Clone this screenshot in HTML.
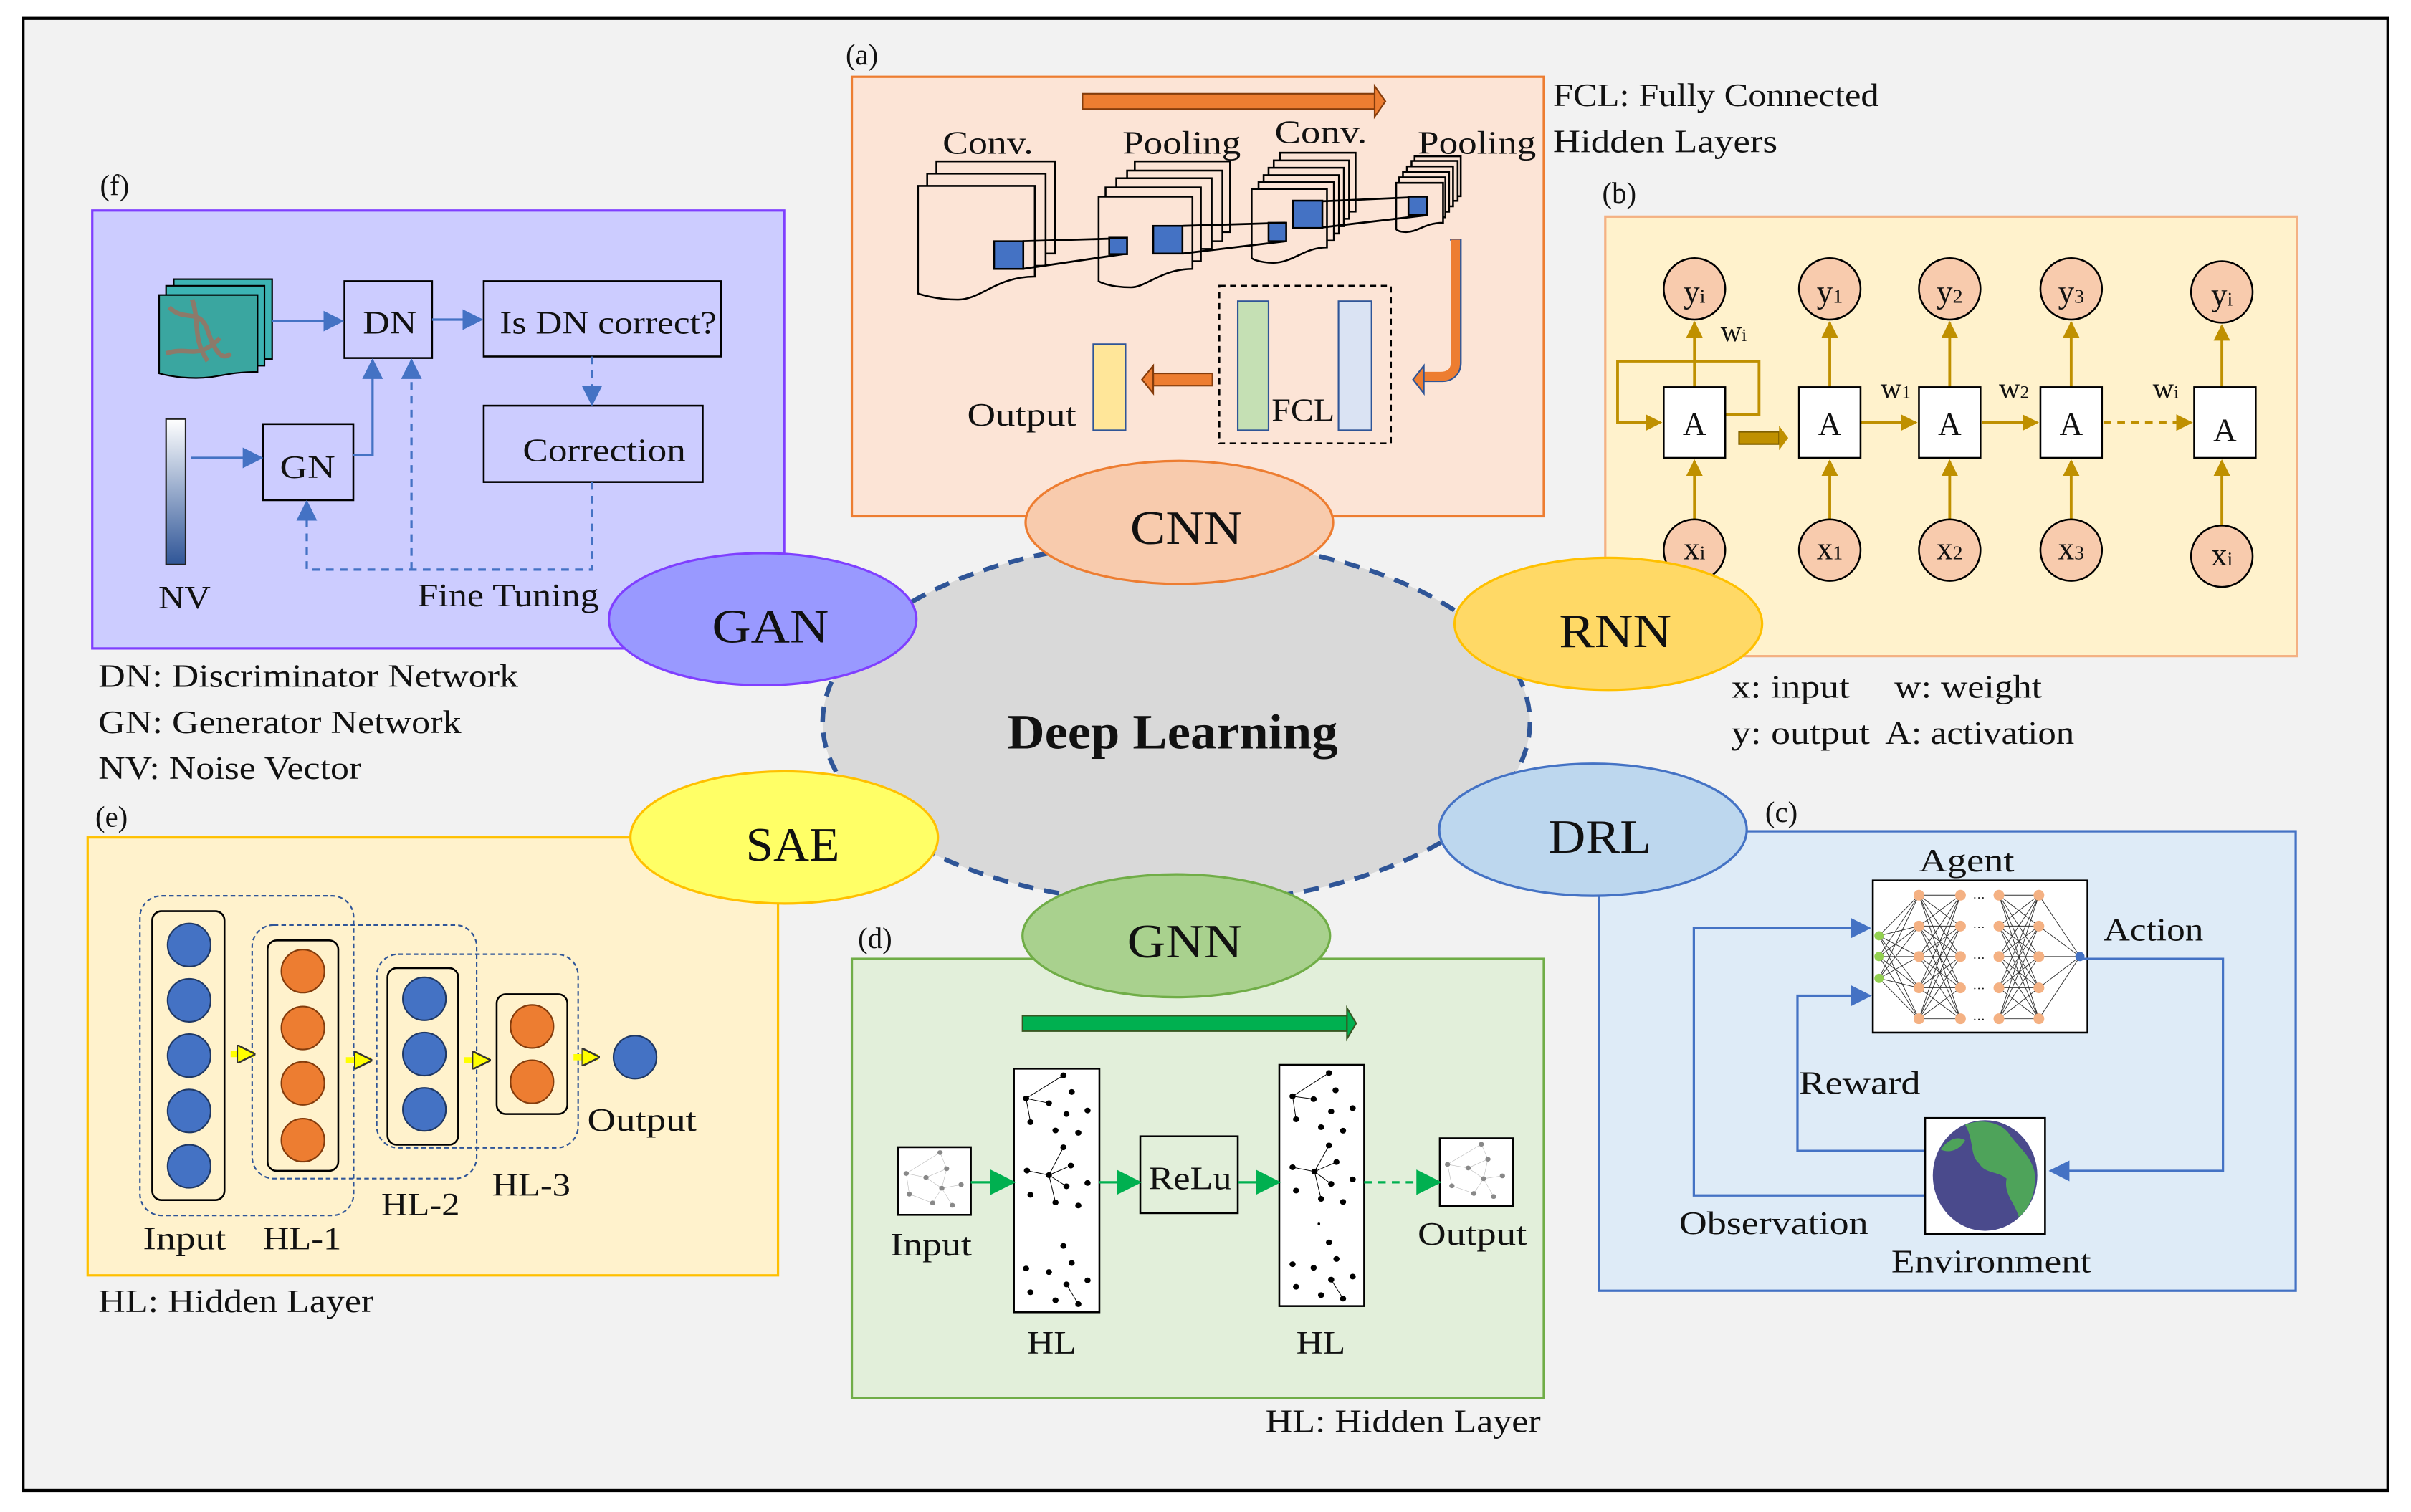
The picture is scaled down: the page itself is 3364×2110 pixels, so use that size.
<!DOCTYPE html>
<html><head><meta charset="utf-8"><style>
html,body{margin:0;padding:0;background:#fff}
svg{display:block}
text{font-family:"Liberation Serif",serif;fill:#111}
</style></head><body>
<svg width="3364" height="2110" viewBox="0 0 1568 984" preserveAspectRatio="none" xmlns="http://www.w3.org/2000/svg">
<defs>
<marker id="bl" viewBox="0 0 10 10" refX="9" refY="5" markerWidth="9" markerHeight="9" orient="auto"><path d="M0,0L10,5L0,10z" fill="#4472c4"/></marker>
<marker id="gd" viewBox="0 0 10 10" refX="9" refY="5" markerWidth="6" markerHeight="6" orient="auto"><path d="M0,0L10,5L0,10z" fill="#bf9000"/></marker>
<marker id="gr" viewBox="0 0 10 10" refX="9" refY="5" markerWidth="11" markerHeight="12" orient="auto"><path d="M0,0L10,5L0,10z" fill="#00b050"/></marker>
<marker id="yl" viewBox="0 0 10 10" refX="9" refY="5" markerWidth="3" markerHeight="3" orient="auto"><path d="M0,0L10,5L0,10z" fill="#ffff00" stroke="#333" stroke-width="1"/></marker>
<linearGradient id="nv" x1="0" y1="0" x2="0" y2="1"><stop offset="0" stop-color="#fff"/><stop offset="0.3" stop-color="#c0cce0"/><stop offset="1" stop-color="#2f5597"/></linearGradient>
</defs>
<rect x="15" y="12" width="1538" height="958" fill="#f2f2f2" stroke="#000" stroke-width="2"/>

<!-- (a) CNN -->
<text x="550" y="42" font-size="19">(a)</text>
<rect x="554" y="50" width="450" height="286" fill="#fce4d6" stroke="#ed7d31" stroke-width="1.5"/>
<text x="1010" y="69" font-size="21" textLength="212" lengthAdjust="spacingAndGlyphs">FCL: Fully Connected</text>
<text x="1010" y="99" font-size="21" textLength="146" lengthAdjust="spacingAndGlyphs">Hidden Layers</text>
<rect x="704" y="61" width="190" height="10" fill="#ed7d31" stroke="#843c0c" stroke-width="1"/>
<path d="M894,56L901,66L894,76z" fill="#ed7d31" stroke="#843c0c"/>
<text x="613" y="100" font-size="21" textLength="59" lengthAdjust="spacingAndGlyphs">Conv.</text>
<text x="730" y="100" font-size="21" textLength="77" lengthAdjust="spacingAndGlyphs">Pooling</text>
<text x="829" y="93" font-size="21" textLength="60" lengthAdjust="spacingAndGlyphs">Conv.</text>
<text x="922" y="100" font-size="21" textLength="77" lengthAdjust="spacingAndGlyphs">Pooling</text>
<g fill="#fce4d6" stroke="#000" stroke-width="1.2">
<rect x="609" y="105" width="77" height="60"/><rect x="603" y="113" width="77" height="60"/>
<path d="M597,121h76v59c-25,0-35,15-50,15c-15,0-26-4-26-4z"/>
<rect x="738" y="105" width="62" height="46"/><rect x="733" y="111" width="62" height="46"/><rect x="726" y="116" width="62" height="46"/><rect x="719" y="122" width="62" height="48"/>
<path d="M714.5,128h61v47c-20,0-30,12-40,12c-15,0-21-4-21-4z"/>
<rect x="832.6" y="99.4" width="49" height="38.3"/><rect x="828.4" y="104.4" width="49" height="38"/><rect x="825" y="109.2" width="49" height="38"/><rect x="821.8" y="114" width="49" height="38"/><rect x="818.5" y="118.6" width="49" height="38"/>
<path d="M814,123h49v38c-15,0-22,10-35,10c-10,0-14-3-14-3z"/>
<rect x="920" y="101.7" width="30" height="26"/><rect x="918" y="104.7" width="30" height="26"/><rect x="915" y="108.3" width="30" height="26"/><rect x="912.4" y="111.8" width="30" height="26"/><rect x="910" y="115.4" width="30" height="26"/>
<path d="M908,119h30.5v26c-12,0-16,6-24,6c-6,0-6.5-2-6.5-2z"/>
</g>
<g stroke="#000" stroke-width="1.3"><line x1="665" y1="157" x2="733" y2="155"/><line x1="665" y1="175" x2="733" y2="165"/>
<line x1="769" y1="147" x2="836" y2="145"/><line x1="769" y1="165" x2="836" y2="157"/>
<line x1="860" y1="131" x2="928" y2="128"/><line x1="860" y1="148" x2="928" y2="140"/></g>
<g fill="#4472c4" stroke="#000" stroke-width="1.2">
<rect x="646.5" y="157" width="19" height="18"/><rect x="721.4" y="154.7" width="11.6" height="10.7"/>
<rect x="750" y="147" width="19" height="18"/><rect x="825" y="145" width="11.5" height="12"/>
<rect x="841" y="130.6" width="19" height="17.8"/><rect x="916" y="128" width="12" height="12"/></g>
<path d="M943,156h7v80c0,8-6,12-12,12h-12" fill="none" stroke="#2f5597" stroke-width="1.2"/>
<path d="M946.5,156v80c0,7-5,9-10,9h-12" fill="none" stroke="#ed7d31" stroke-width="6"/>
<path d="M926,238L919,247L926,256z" fill="#ed7d31" stroke="#2f5597"/>
<rect x="793" y="186" width="111.6" height="102.5" fill="none" stroke="#000" stroke-dasharray="4,3" stroke-width="1.2"/>
<rect x="805" y="196" width="20" height="84" fill="#c5e0b4" stroke="#2f5597"/>
<rect x="870.5" y="196" width="21.5" height="84" fill="#dae3f3" stroke="#2f5597"/>
<text x="827" y="274" font-size="21" textLength="41" lengthAdjust="spacingAndGlyphs">FCL</text>
<rect x="711" y="224" width="21" height="56" fill="#ffe699" stroke="#2f5597"/>
<rect x="750" y="243" width="38.5" height="8" fill="#ed7d31" stroke="#843c0c"/>
<path d="M750,238L742.7,247L750,256z" fill="#ed7d31" stroke="#843c0c"/>
<text x="629" y="277" font-size="21" textLength="71" lengthAdjust="spacingAndGlyphs">Output</text>

<!-- (b) RNN -->
<text x="1042" y="132" font-size="19">(b)</text>
<rect x="1044" y="141" width="450" height="286" fill="#fff2cc" stroke="#f4b183" stroke-width="1.5"/>
<g stroke="#bf9000" stroke-width="1.8" fill="none">
<line x1="1102" y1="252" x2="1102" y2="210" marker-end="url(#gd)"/>
<line x1="1190" y1="252" x2="1190" y2="210" marker-end="url(#gd)"/>
<line x1="1268" y1="252" x2="1268" y2="210" marker-end="url(#gd)"/>
<line x1="1347" y1="252" x2="1347" y2="210" marker-end="url(#gd)"/>
<line x1="1445" y1="252" x2="1445" y2="212" marker-end="url(#gd)"/>
<line x1="1102" y1="338" x2="1102" y2="300" marker-end="url(#gd)"/>
<line x1="1190" y1="338" x2="1190" y2="300" marker-end="url(#gd)"/>
<line x1="1268" y1="338" x2="1268" y2="300" marker-end="url(#gd)"/>
<line x1="1347" y1="338" x2="1347" y2="300" marker-end="url(#gd)"/>
<line x1="1445" y1="342" x2="1445" y2="300" marker-end="url(#gd)"/>
<path d="M1122,270h22v-35h-92v40h28" marker-end="url(#gd)"/>
<line x1="1210" y1="275" x2="1246" y2="275" marker-end="url(#gd)"/>
<line x1="1289" y1="275" x2="1325" y2="275" marker-end="url(#gd)"/>
<line x1="1368" y1="275" x2="1425" y2="275" stroke-dasharray="5,4" marker-end="url(#gd)"/>
</g>
<rect x="1131" y="281" width="26" height="8" fill="#bf9000" stroke="#7f6000"/>
<path d="M1157,277L1163,285L1157,293z" fill="#bf9000"/>
<g fill="#fff" stroke="#000" stroke-width="1.2">
<rect x="1082" y="252" width="40" height="46"/><rect x="1170" y="252" width="40" height="46"/><rect x="1248" y="252" width="40" height="46"/><rect x="1327" y="252" width="40" height="46"/><rect x="1427" y="252" width="40" height="46"/></g>
<g font-size="21" text-anchor="middle"><text x="1102" y="283">A</text><text x="1190" y="283">A</text><text x="1268" y="283">A</text><text x="1347" y="283">A</text><text x="1447" y="287">A</text></g>
<g fill="#f8cbad" stroke="#000" stroke-width="1.2">
<circle cx="1102" cy="188" r="20"/><circle cx="1190" cy="188" r="20"/><circle cx="1268" cy="188" r="20"/><circle cx="1347" cy="188" r="20"/><circle cx="1445" cy="190" r="20"/>
<circle cx="1102" cy="358" r="20"/><circle cx="1190" cy="358" r="20"/><circle cx="1268" cy="358" r="20"/><circle cx="1347" cy="358" r="20"/><circle cx="1445" cy="362" r="20"/></g>
<g font-size="21" text-anchor="middle">
<text x="1102" y="197">y<tspan font-size="13">i</tspan></text><text x="1190" y="197">y<tspan font-size="13">1</tspan></text><text x="1268" y="197">y<tspan font-size="13">2</tspan></text><text x="1347" y="197">y<tspan font-size="13">3</tspan></text><text x="1445" y="199">y<tspan font-size="13">i</tspan></text>
<text x="1102" y="364">x<tspan font-size="13">i</tspan></text><text x="1190" y="364">x<tspan font-size="13">1</tspan></text><text x="1268" y="364">x<tspan font-size="13">2</tspan></text><text x="1347" y="364">x<tspan font-size="13">3</tspan></text><text x="1445" y="368">x<tspan font-size="13">i</tspan></text></g>
<g font-size="19"><text x="1119" y="222">w<tspan font-size="12">i</tspan></text><text x="1223" y="259">w<tspan font-size="12">1</tspan></text><text x="1300" y="259">w<tspan font-size="12">2</tspan></text><text x="1400" y="259">w<tspan font-size="12">i</tspan></text></g>
<text x="1126" y="454" font-size="21" textLength="77" lengthAdjust="spacingAndGlyphs">x: input</text><text x="1232" y="454" font-size="21" textLength="96" lengthAdjust="spacingAndGlyphs">w: weight</text>
<text x="1126" y="484" font-size="21" textLength="90" lengthAdjust="spacingAndGlyphs">y: output</text><text x="1226" y="484" font-size="21" textLength="123" lengthAdjust="spacingAndGlyphs">A: activation</text>

<!-- (c) DRL -->
<text x="1148" y="535" font-size="19">(c)</text>
<rect x="1040" y="541" width="453" height="299" fill="#deebf7" stroke="#4472c4" stroke-width="1.5"/>
<text x="1248" y="567" font-size="21" textLength="62" lengthAdjust="spacingAndGlyphs">Agent</text>
<rect x="1218" y="573" width="139.6" height="99" fill="#fff" stroke="#000" stroke-width="1.2"/>
<g stroke="#333" stroke-width="0.45" fill="none">
<path d="M1222,609L1248,582.6M1222,609L1248,602.7M1222,609L1248,622.5M1222,609L1248,642.9M1222,609L1248,663M1222,622.5L1248,582.6M1222,622.5L1248,602.7M1222,622.5L1248,622.5M1222,622.5L1248,642.9M1222,622.5L1248,663M1222,636.7L1248,582.6M1222,636.7L1248,602.7M1222,636.7L1248,622.5M1222,636.7L1248,642.9M1222,636.7L1248,663"/>
<path d="M1248,582.6L1275,582.6M1248,582.6L1275,602.7M1248,582.6L1275,622.5M1248,582.6L1275,642.9M1248,582.6L1275,663M1248,602.7L1275,582.6M1248,602.7L1275,602.7M1248,602.7L1275,622.5M1248,602.7L1275,642.9M1248,602.7L1275,663M1248,622.5L1275,582.6M1248,622.5L1275,602.7M1248,622.5L1275,622.5M1248,622.5L1275,642.9M1248,622.5L1275,663M1248,642.9L1275,582.6M1248,642.9L1275,602.7M1248,642.9L1275,622.5M1248,642.9L1275,642.9M1248,642.9L1275,663M1248,663L1275,582.6M1248,663L1275,602.7M1248,663L1275,622.5M1248,663L1275,642.9M1248,663L1275,663"/>
<path d="M1300,582.6L1326,582.6M1300,582.6L1326,602.7M1300,582.6L1326,622.5M1300,582.6L1326,642.9M1300,582.6L1326,663M1300,602.7L1326,582.6M1300,602.7L1326,602.7M1300,602.7L1326,622.5M1300,602.7L1326,642.9M1300,602.7L1326,663M1300,622.5L1326,582.6M1300,622.5L1326,602.7M1300,622.5L1326,622.5M1300,622.5L1326,642.9M1300,622.5L1326,663M1300,642.9L1326,582.6M1300,642.9L1326,602.7M1300,642.9L1326,622.5M1300,642.9L1326,642.9M1300,642.9L1326,663M1300,663L1326,582.6M1300,663L1326,602.7M1300,663L1326,622.5M1300,663L1326,642.9M1300,663L1326,663"/>
<path d="M1326,582.6L1352.7,622.5M1326,602.7L1352.7,622.5M1326,622.5L1352.7,622.5M1326,642.9L1352.7,622.5M1326,663L1352.7,622.5"/>
</g>
<g fill="#f4b183"><circle cx="1248" cy="582.6" r="3.5"/><circle cx="1248" cy="602.7" r="3.5"/><circle cx="1248" cy="622.5" r="3.5"/><circle cx="1248" cy="642.9" r="3.5"/><circle cx="1248" cy="663" r="3.5"/>
<circle cx="1275" cy="582.6" r="3.5"/><circle cx="1275" cy="602.7" r="3.5"/><circle cx="1275" cy="622.5" r="3.5"/><circle cx="1275" cy="642.9" r="3.5"/><circle cx="1275" cy="663" r="3.5"/>
<circle cx="1300" cy="582.6" r="3.5"/><circle cx="1300" cy="602.7" r="3.5"/><circle cx="1300" cy="622.5" r="3.5"/><circle cx="1300" cy="642.9" r="3.5"/><circle cx="1300" cy="663" r="3.5"/>
<circle cx="1326" cy="582.6" r="3.5"/><circle cx="1326" cy="602.7" r="3.5"/><circle cx="1326" cy="622.5" r="3.5"/><circle cx="1326" cy="642.9" r="3.5"/><circle cx="1326" cy="663" r="3.5"/></g>
<g fill="#92d050"><circle cx="1222" cy="609" r="3"/><circle cx="1222" cy="622.5" r="3"/><circle cx="1222" cy="636.7" r="3"/></g>
<circle cx="1352.7" cy="622.5" r="3" fill="#4472c4"/>
<g font-size="8" fill="#666"><text x="1283" y="587">···</text><text x="1283" y="606">···</text><text x="1283" y="626">···</text><text x="1283" y="646">···</text><text x="1283" y="666">···</text></g>
<text x="1368" y="612" font-size="21" textLength="65" lengthAdjust="spacingAndGlyphs">Action</text>
<g stroke="#4472c4" stroke-width="1.5" fill="none">
<path d="M1355,624h90.7v138h-112" marker-end="url(#bl)"/>
<path d="M1253,778h-151.4v-174h114" marker-end="url(#bl)"/>
<path d="M1253,749h-84v-101h47" marker-end="url(#bl)"/>
</g>
<text x="1170" y="712" font-size="21" textLength="79" lengthAdjust="spacingAndGlyphs">Reward</text>
<rect x="1252" y="727.6" width="78" height="75.4" fill="#fff" stroke="#000" stroke-width="1.2"/>
<ellipse cx="1291" cy="765" rx="34" ry="36" fill="#4a4a8c"/>
<path d="M1278,732c10-4,22-2,28,5c6,9,14,14,17,25c2,12-3,25-10,30c-3-10-10-15-8-25c-6-5-14-3-18-10c-6-5-3-15-9-25z M1262,748c5-6,10-9,16-6c-3,6-10,9-16,6z" fill="#4ea35a"/>
<text x="1092" y="803" font-size="21" textLength="123" lengthAdjust="spacingAndGlyphs">Observation</text>
<text x="1230" y="828" font-size="21" textLength="130" lengthAdjust="spacingAndGlyphs">Environment</text>

<!-- (d) GNN -->
<text x="558" y="617" font-size="19">(d)</text>
<rect x="554" y="624" width="450" height="286" fill="#e2efda" stroke="#70ad47" stroke-width="1.5"/>
<rect x="665" y="661" width="211" height="10" fill="#00b050" stroke="#385723"/>
<path d="M876,656L882,666L876,676z" fill="#00b050" stroke="#385723"/>
<rect x="584" y="746.6" width="47.4" height="44" fill="#fff" stroke="#000" stroke-width="1.2"/>
<rect x="659.4" y="695.5" width="55.6" height="158.5" fill="#fff" stroke="#000" stroke-width="1.2"/>
<rect x="741.6" y="739.5" width="63.4" height="50" fill="#e2efda" stroke="#000" stroke-width="1.2"/>
<text x="747" y="774" font-size="21" textLength="54" lengthAdjust="spacingAndGlyphs">ReLu</text>
<rect x="832" y="693" width="55.2" height="157" fill="#fff" stroke="#000" stroke-width="1.2"/>
<rect x="936.4" y="740.8" width="47.6" height="44.2" fill="#fff" stroke="#000" stroke-width="1.2"/>
<g transform="translate(559.4,643.4) scale(0.2855,0.1546)">
<g stroke="#000" stroke-width="1" fill="none">
<path vector-effect="non-scaling-stroke" d="M463,365L378,462L430,482M378,462L388,562M430,785L463,668M430,785L480,745M430,785L470,832M430,785L445,900M430,785L380,766M470,1245L497,1328"/>
<path vector-effect="non-scaling-stroke" d="M1068,355L985,453L1033,465M985,453L993,550M1035,770L1068,660M1035,770L1085,730M1035,770L1073,822M1035,770L1050,885M1035,770L985,752M1073,1225L1100,1305"/>
</g>
<g fill="#000">
<ellipse cx="463" cy="365" rx="7" ry="12"/><ellipse cx="378" cy="462" rx="7" ry="12"/><ellipse cx="430" cy="482" rx="7" ry="12"/><ellipse cx="388" cy="562" rx="7" ry="12"/><ellipse cx="482" cy="435" rx="7" ry="12"/><ellipse cx="470" cy="528" rx="7" ry="12"/><ellipse cx="518" cy="513" rx="7" ry="12"/><ellipse cx="445" cy="597" rx="7" ry="12"/><ellipse cx="497" cy="607" rx="7" ry="12"/>
<ellipse cx="430" cy="785" rx="7" ry="12"/><ellipse cx="463" cy="668" rx="7" ry="12"/><ellipse cx="480" cy="745" rx="7" ry="12"/><ellipse cx="470" cy="832" rx="7" ry="12"/><ellipse cx="445" cy="900" rx="7" ry="12"/><ellipse cx="380" cy="766" rx="7" ry="12"/><ellipse cx="388" cy="868" rx="7" ry="12"/><ellipse cx="518" cy="818" rx="7" ry="12"/><ellipse cx="497" cy="913" rx="7" ry="12"/>
<ellipse cx="463" cy="1083" rx="7" ry="12"/><ellipse cx="482" cy="1155" rx="7" ry="12"/><ellipse cx="378" cy="1178" rx="7" ry="12"/><ellipse cx="430" cy="1193" rx="7" ry="12"/><ellipse cx="470" cy="1245" rx="7" ry="12"/><ellipse cx="497" cy="1328" rx="7" ry="12"/><ellipse cx="518" cy="1228" rx="7" ry="12"/><ellipse cx="388" cy="1278" rx="7" ry="12"/><ellipse cx="445" cy="1312" rx="7" ry="12"/>
<ellipse cx="1068" cy="355" rx="7" ry="12"/><ellipse cx="985" cy="453" rx="7" ry="12"/><ellipse cx="1033" cy="465" rx="7" ry="12"/><ellipse cx="993" cy="550" rx="7" ry="12"/><ellipse cx="1083" cy="428" rx="7" ry="12"/><ellipse cx="1073" cy="517" rx="7" ry="12"/><ellipse cx="1122" cy="503" rx="7" ry="12"/><ellipse cx="1050" cy="583" rx="7" ry="12"/><ellipse cx="1100" cy="598" rx="7" ry="12"/>
<ellipse cx="1035" cy="770" rx="7" ry="12"/><ellipse cx="1068" cy="660" rx="7" ry="12"/><ellipse cx="1085" cy="730" rx="7" ry="12"/><ellipse cx="1073" cy="822" rx="7" ry="12"/><ellipse cx="1050" cy="885" rx="7" ry="12"/><ellipse cx="985" cy="752" rx="7" ry="12"/><ellipse cx="993" cy="850" rx="7" ry="12"/><ellipse cx="1122" cy="803" rx="7" ry="12"/><ellipse cx="1100" cy="898" rx="7" ry="12"/>
<ellipse cx="1045" cy="990" rx="3" ry="5"/><ellipse cx="1068" cy="1068" rx="7" ry="12"/><ellipse cx="1085" cy="1138" rx="7" ry="12"/><ellipse cx="985" cy="1160" rx="7" ry="12"/><ellipse cx="1033" cy="1175" rx="7" ry="12"/><ellipse cx="1073" cy="1225" rx="7" ry="12"/><ellipse cx="1100" cy="1305" rx="7" ry="12"/><ellipse cx="1122" cy="1212" rx="7" ry="12"/><ellipse cx="993" cy="1255" rx="7" ry="12"/><ellipse cx="1050" cy="1290" rx="7" ry="12"/>
</g>
<path vector-effect="non-scaling-stroke" d="M182,690L105,778L112,865L165,902L186,840L150,795L105,778M182,690L197,758L186,840L230,825M150,795L197,758M186,840L210,912M1415,655L1338,740L1348,830L1398,862L1420,800L1385,755L1338,740M1415,655L1430,718L1420,800L1463,788M1385,755L1430,718M1420,800L1443,875" stroke="#bbb" stroke-width="0.6" fill="none"/>
<g fill="#888"><ellipse cx="182" cy="690" rx="6" ry="10"/><ellipse cx="105" cy="778" rx="6" ry="10"/><ellipse cx="150" cy="795" rx="6" ry="10"/><ellipse cx="197" cy="758" rx="6" ry="10"/><ellipse cx="186" cy="840" rx="6" ry="10"/><ellipse cx="230" cy="825" rx="6" ry="10"/><ellipse cx="112" cy="865" rx="6" ry="10"/><ellipse cx="165" cy="902" rx="6" ry="10"/><ellipse cx="210" cy="912" rx="6" ry="10"/>
<ellipse cx="1415" cy="655" rx="6" ry="10"/><ellipse cx="1338" cy="740" rx="6" ry="10"/><ellipse cx="1385" cy="755" rx="6" ry="10"/><ellipse cx="1430" cy="718" rx="6" ry="10"/><ellipse cx="1420" cy="800" rx="6" ry="10"/><ellipse cx="1463" cy="788" rx="6" ry="10"/><ellipse cx="1348" cy="830" rx="6" ry="10"/><ellipse cx="1398" cy="862" rx="6" ry="10"/><ellipse cx="1443" cy="875" rx="6" ry="10"/></g>
</g>
<g stroke="#00b050" stroke-width="1.5" fill="none">
<line x1="631.4" y1="769.4" x2="659" y2="769.4" marker-end="url(#gr)"/>
<line x1="715" y1="769.4" x2="741" y2="769.4" marker-end="url(#gr)"/>
<line x1="805" y1="769.4" x2="831.5" y2="769.4" marker-end="url(#gr)"/>
<line x1="887.2" y1="769.4" x2="936" y2="769.4" stroke-dasharray="5,4" marker-end="url(#gr)"/>
</g>
<text x="579" y="817" font-size="21" textLength="53" lengthAdjust="spacingAndGlyphs">Input</text>
<text x="922" y="810" font-size="21" textLength="71" lengthAdjust="spacingAndGlyphs">Output</text>
<text x="668" y="881" font-size="21" textLength="32" lengthAdjust="spacingAndGlyphs">HL</text>
<text x="843" y="881" font-size="21" textLength="32" lengthAdjust="spacingAndGlyphs">HL</text>
<text x="823" y="932" font-size="21" textLength="179" lengthAdjust="spacingAndGlyphs">HL: Hidden Layer</text>

<!-- (e) SAE -->
<text x="62" y="538" font-size="19">(e)</text>
<rect x="57" y="545" width="449" height="285" fill="#fff2cc" stroke="#ffc000" stroke-width="1.5"/>
<g fill="none" stroke="#2f5597" stroke-dasharray="3,2" stroke-width="1">
<rect x="91" y="583" width="139" height="208" rx="14"/>
<rect x="164" y="602" width="146" height="165" rx="14"/>
<rect x="245" y="621" width="131" height="126" rx="14"/></g>
<g fill="#fff2cc" stroke="#000" stroke-width="1.2">
<rect x="99" y="593" width="47" height="188" rx="6"/><rect x="174" y="612" width="46" height="150" rx="6"/><rect x="252" y="630" width="46" height="115" rx="6"/><rect x="323" y="647" width="46" height="78" rx="6"/></g>
<g fill="#4472c4" stroke="#1f3864" stroke-width="1"><circle cx="123" cy="615" r="14"/><circle cx="123" cy="651" r="14"/><circle cx="123" cy="687" r="14"/><circle cx="123" cy="723" r="14"/><circle cx="123" cy="759" r="14"/>
<circle cx="276" cy="650" r="14"/><circle cx="276" cy="686" r="14"/><circle cx="276" cy="722" r="14"/><circle cx="413" cy="688" r="14"/></g>
<g fill="#ed7d31" stroke="#843c0c" stroke-width="1"><circle cx="197" cy="632" r="14"/><circle cx="197" cy="669" r="14"/><circle cx="197" cy="705" r="14"/><circle cx="197" cy="742" r="14"/><circle cx="346" cy="668" r="14"/><circle cx="346" cy="704" r="14"/></g>
<g stroke="#ffff00" stroke-width="4"><line x1="150" y1="686" x2="165" y2="686" marker-end="url(#yl)"/><line x1="225" y1="690" x2="241" y2="690" marker-end="url(#yl)"/><line x1="302" y1="690" x2="318" y2="690" marker-end="url(#yl)"/><line x1="373" y1="688" x2="389" y2="688" marker-end="url(#yl)"/></g>
<text x="382" y="736" font-size="21" textLength="71" lengthAdjust="spacingAndGlyphs">Output</text>
<text x="93" y="813" font-size="21" textLength="54" lengthAdjust="spacingAndGlyphs">Input</text>
<text x="171" y="813" font-size="21" textLength="51" lengthAdjust="spacingAndGlyphs">HL-1</text>
<text x="248" y="791" font-size="21" textLength="51" lengthAdjust="spacingAndGlyphs">HL-2</text>
<text x="320" y="778" font-size="21" textLength="51" lengthAdjust="spacingAndGlyphs">HL-3</text>
<text x="64" y="854" font-size="21" textLength="179" lengthAdjust="spacingAndGlyphs">HL: Hidden Layer</text>

<!-- (f) GAN -->
<text x="65" y="127" font-size="19">(f)</text>
<rect x="60" y="137" width="450" height="285" fill="#ccccff" stroke="#7f3fff" stroke-width="1.5"/>
<rect x="113" y="181.7" width="64" height="52" fill="#3cb4b4" stroke="#000"/>
<rect x="108" y="186" width="64" height="52" fill="#3cb4b4" stroke="#000"/>
<path d="M103.5,192h64v50c-20,0-25,4-40,4c-14,0-24-3-24-3z" fill="#3aa6a0" stroke="#000"/>
<path d="M110,200c10,10,20,0,25,15s10,20,15,15M108,230c15-5,20,5,35-10M125,195c5,15,0,25,10,40" stroke="#8c7a6a" stroke-width="3" fill="none"/>
<rect x="224" y="183" width="57" height="50" fill="#ccccff" stroke="#000" stroke-width="1.2"/><text x="236" y="217" font-size="21" textLength="35" lengthAdjust="spacingAndGlyphs">DN</text>
<rect x="314.6" y="183" width="154.4" height="49" fill="#ccccff" stroke="#000" stroke-width="1.2"/><text x="325" y="217" font-size="21" textLength="141" lengthAdjust="spacingAndGlyphs">Is DN correct?</text>
<rect x="314.6" y="264" width="142.4" height="49.7" fill="#ccccff" stroke="#000" stroke-width="1.2"/><text x="340" y="300" font-size="21" textLength="106" lengthAdjust="spacingAndGlyphs">Correction</text>
<rect x="171" y="276" width="58.8" height="49.5" fill="#ccccff" stroke="#000" stroke-width="1.2"/><text x="182" y="311" font-size="21" textLength="36" lengthAdjust="spacingAndGlyphs">GN</text>
<rect x="108" y="272.7" width="12.7" height="94.7" fill="url(#nv)" stroke="#222"/>
<text x="103" y="396" font-size="21" textLength="34" lengthAdjust="spacingAndGlyphs">NV</text>
<text x="271.5" y="394.5" font-size="21" textLength="118" lengthAdjust="spacingAndGlyphs">Fine Tuning</text>
<g stroke="#4472c4" stroke-width="1.5" fill="none">
<line x1="177" y1="209" x2="222.5" y2="209" marker-end="url(#bl)"/>
<line x1="281" y1="208" x2="313" y2="208" marker-end="url(#bl)"/>
<line x1="124" y1="298" x2="170" y2="298" marker-end="url(#bl)"/>
<path d="M229.8,296h12.5v-61.5" marker-end="url(#bl)"/>
<line x1="385" y1="232" x2="385" y2="263" stroke-dasharray="5,4" marker-end="url(#bl)"/>
<path d="M385,313.7v57h-185.5v-44" stroke-dasharray="5,4" marker-end="url(#bl)"/>
<line x1="267.6" y1="370.7" x2="267.6" y2="234.5" stroke-dasharray="5,4" marker-end="url(#bl)"/>
</g>
<text x="64" y="447" font-size="21" textLength="273" lengthAdjust="spacingAndGlyphs">DN: Discriminator Network</text>
<text x="64" y="477" font-size="21" textLength="236" lengthAdjust="spacingAndGlyphs">GN: Generator Network</text>
<text x="64" y="507" font-size="21" textLength="171" lengthAdjust="spacingAndGlyphs">NV: Noise Vector</text>

<!-- Center -->
<ellipse cx="765" cy="470" rx="230" ry="118" fill="#d9d9d9" stroke="#2f5597" stroke-width="3" stroke-dasharray="10,7"/>
<text x="655" y="487" font-size="32" font-weight="bold" textLength="215" lengthAdjust="spacingAndGlyphs">Deep Learning</text>
<g stroke-width="1.5">
<ellipse cx="767" cy="340" rx="100" ry="40" fill="#f8cbad" stroke="#ed7d31"/>
<ellipse cx="1046" cy="406" rx="100" ry="43" fill="#ffd966" stroke="#ffc000"/>
<ellipse cx="1036" cy="540" rx="100" ry="43" fill="#bdd7ee" stroke="#4472c4"/>
<ellipse cx="765" cy="609" rx="100" ry="40" fill="#a9d18e" stroke="#70ad47"/>
<ellipse cx="510" cy="545" rx="100" ry="43" fill="#ffff66" stroke="#ffc000"/>
<ellipse cx="496" cy="403" rx="100" ry="43" fill="#9999ff" stroke="#7f3fff"/>
</g>
<g font-size="31">
<text x="735" y="354" textLength="73" lengthAdjust="spacingAndGlyphs">CNN</text>
<text x="1014" y="421" textLength="73" lengthAdjust="spacingAndGlyphs">RNN</text>
<text x="1007" y="555" textLength="67" lengthAdjust="spacingAndGlyphs">DRL</text>
<text x="733" y="623" textLength="75" lengthAdjust="spacingAndGlyphs">GNN</text>
<text x="485" y="560" textLength="61" lengthAdjust="spacingAndGlyphs">SAE</text>
<text x="463" y="418" textLength="76" lengthAdjust="spacingAndGlyphs">GAN</text></g>
</svg>
</body></html>
